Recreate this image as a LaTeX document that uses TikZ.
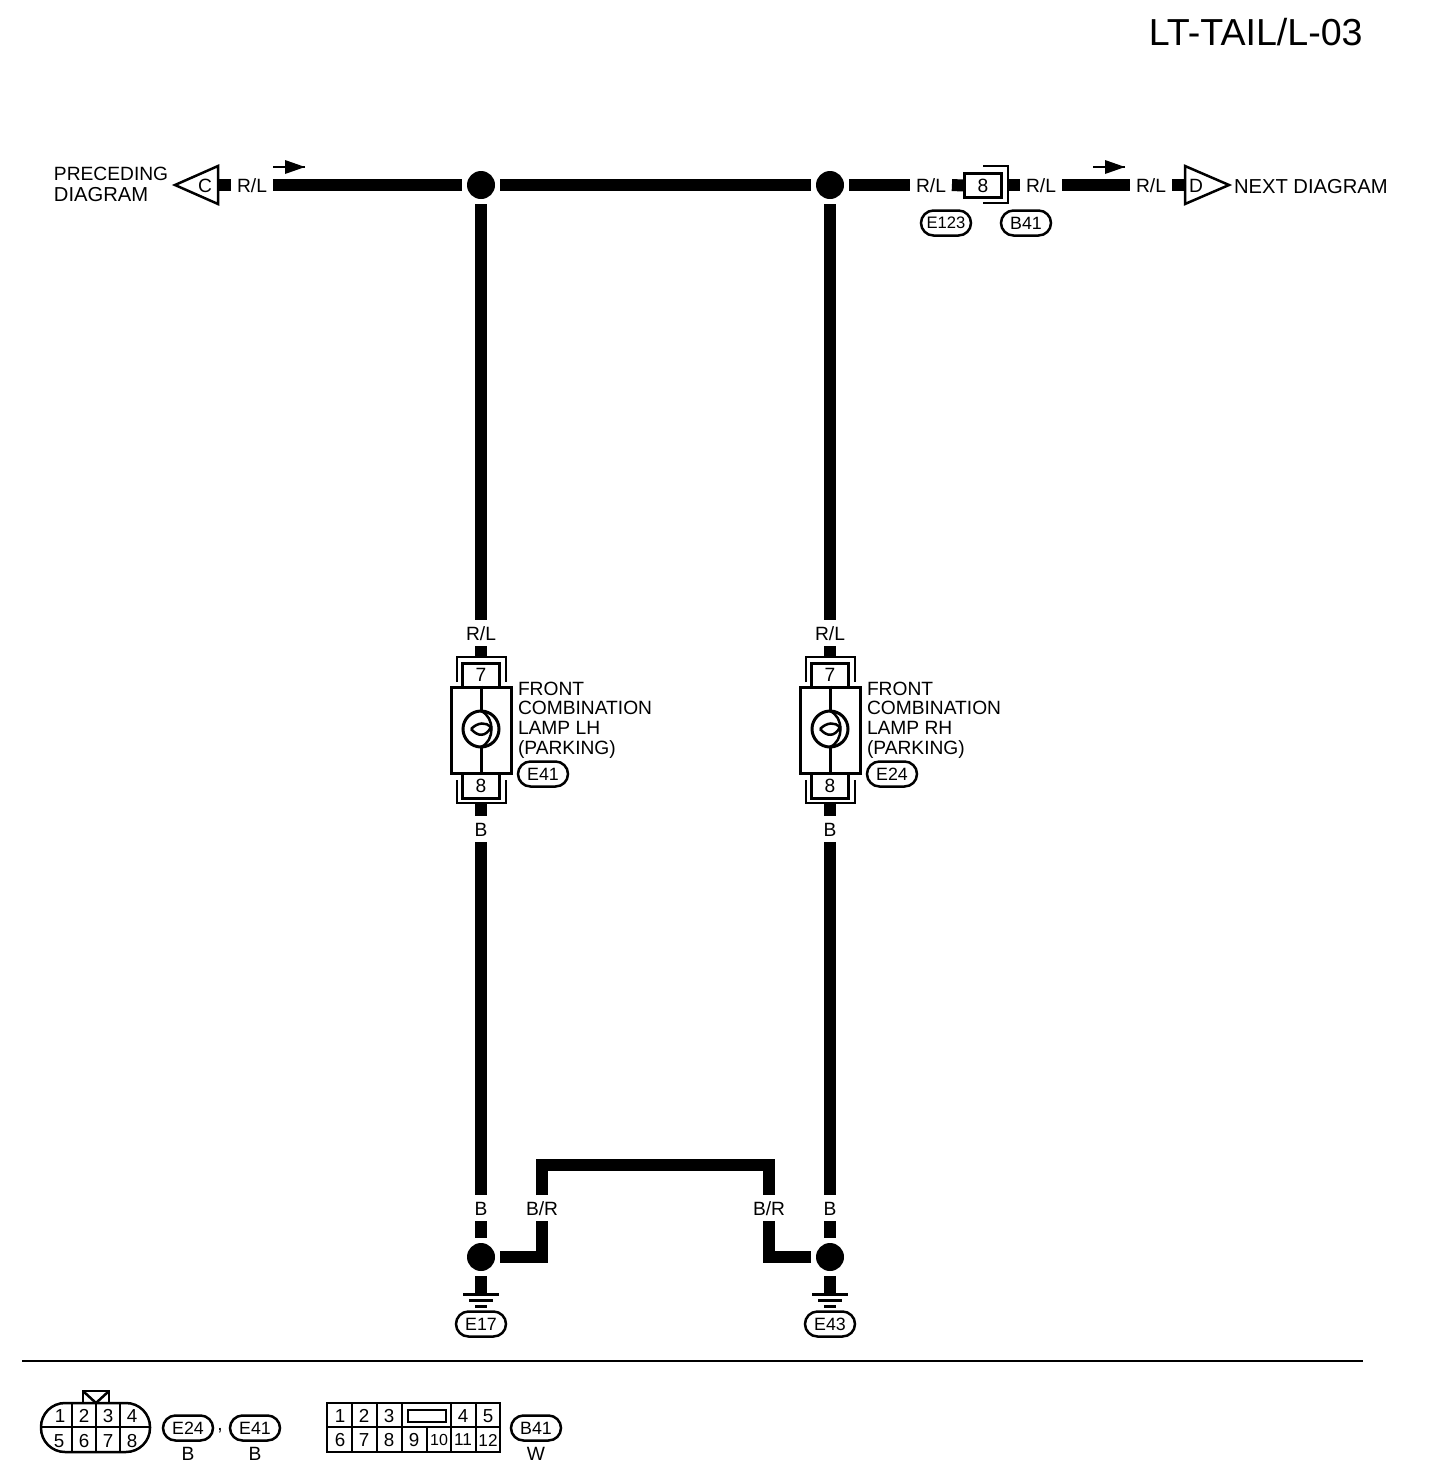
\documentclass[tikz,border=0pt]{standalone}
\usepackage{fontspec}
\setmainfont{Liberation Sans}
\usetikzlibrary{shapes.misc}
\tikzset{
  x=0.5pt,y=-0.5pt,
  wire/.style={line width=6pt,line cap=butt,line join=miter},
  thin line/.style={line width=1.25pt},
  lab/.style={font=\fontsize{9.6pt}{10pt}\selectfont,inner xsep=3pt,inner ysep=3pt,text height=7pt,text depth=0pt,outer sep=0pt},
  txt/.style={font=\fontsize{9.6pt}{10pt}\selectfont,inner sep=0pt,outer sep=0pt},
  junction/.style={circle,fill=black,minimum size=14pt,inner sep=0pt,outer sep=2.5pt},
  pill/.style={rounded rectangle,draw,line width=1.25pt,minimum width=25pt,minimum height=12.5pt,inner sep=0pt,font=\fontsize{8.9pt}{10pt}\selectfont},
  pinbox/.style={draw,line width=1.5pt,minimum width=18.5pt,minimum height=12pt,inner sep=0pt,font=\fontsize{9.6pt}{10pt}\selectfont},
  pin/.style={font=\fontsize{9.4pt}{10pt}\selectfont,inner sep=0pt},
  flowarrow/.style={line width=1pt},
}
\newcommand{\lampunit}[4]{%
  % #1 name, #2 x, #3 label, #4 pill text
  \node[lab] (#1top) at (#2,633) {R/L};
  \coordinate (#1stubT) at (#2,657);
  \draw[line width=1.4pt] (#2-24,682) |- (#2+25,657) -- (#2+25,682);
  \node[pinbox,minimum height=12pt] (#1p7) at (#2,675) {7};
  \node[draw,line width=1.5pt,minimum width=30pt,minimum height=43pt,inner sep=0pt] (#1body) at (#2,730) {};
  \node[pinbox,minimum height=12.5pt] (#1p8) at (#2,786) {8};
  \draw[line width=1.4pt] (#2-24,780) |- (#2+25,803) -- (#2+25,780);
  \coordinate (#1stubB) at (#2,803);
  \node[lab] (#1bot) at (#2,829) {B};
  \draw[wire] (#1top.south) -- (#1stubT);
  \draw[wire] (#1stubB) -- (#1bot.north);
  \node[circle,draw,line width=1.5pt,minimum size=18pt,inner sep=0pt] (#1bulb) at (#2,729) {};
  \draw[line width=1.5pt] (#1body.north) -- (#2,711);
  \draw[line width=1.5pt] (#2,747) -- (#1body.south);
  \draw[line width=1.25pt] (#2,711) .. controls (#2+14,717) and (#2+14,741) .. (#2,747);
  \draw[line width=1.25pt] (#2-10,729) .. controls (#2-3,722) and (#2+5,722) .. (#2+10,727)
     .. controls (#2+5,737) and (#2-3,737) .. (#2-10,729);
  \node[txt,anchor=base west] (#1l1) at (#2+37,695) {FRONT};
  \node[txt,anchor=base west] (#1l2) at (#2+37,714) {COMBINATION};
  \node[txt,anchor=base west] (#1l3) at (#2+37,734) {#3};
  \node[txt,anchor=base west] (#1l4) at (#2+37,754) {(PARKING)};
  \node[pill] (#1pill) at (#2+62,774) {#4};
}
\newcommand{\groundunit}[3]{%
  % #1 name, #2 x, #3 pill text
  \node[lab] (#1b) at (#2,1208) {B};
  \node[junction] (#1j) at (#2,1257) {};
  \coordinate (#1g) at (#2,1294);
  \draw[wire] (#1b.south) -- (#1j.north);
  \draw[wire] (#1j.south) -- (#1g);
  \draw[line width=1.5pt] (#2-18,1294) -- (#2+18,1294);
  \draw[line width=1.5pt] (#2-12,1300) -- (#2+12,1300);
  \draw[line width=1.5pt] (#2-6,1306) -- (#2+6,1306);
  \node[pill] (#1pill) at (#2,1324) {#3};
}
\begin{document}
\begin{tikzpicture}
\useasboundingbox (0,0) rectangle (1440,1484);
% title
\node[inner sep=0pt,anchor=base east,font=\fontsize{18.8pt}{20pt}\selectfont] (title) at (1363,45) {LT-TAIL/L-03};
% left off-page
\node[txt,anchor=base west] (prec1) at (54,180) {PRECEDING};
\node[txt,anchor=base west,font=\fontsize{10.1pt}{11pt}\selectfont] (prec2) at (54,201) {DIAGRAM};
\coordinate (triL) at (218,185);
\draw[line width=1.25pt,line join=miter] (218,166) -- (175,185) -- (218,204) -- cycle;
\node[txt] (cC) at (205,186) {C};
\node[lab] (rl1) at (252,185) {R/L};
\node[junction] (j1) at (481,185) {};
\node[junction] (j2) at (830,185) {};
\node[lab] (rl2) at (931,185) {R/L};
\node[draw,line width=1.5pt,minimum width=18.5pt,minimum height=12pt,inner sep=0pt,font=\fontsize{9.6pt}{10pt}\selectfont] (c8) at (983,185.5) {8};
\draw[line width=1.25pt] (983,166) -| (1008,203) -- (983,203);
\coordinate (c8r) at (1008,185);
\node[lab] (rl3) at (1041,185) {R/L};
\node[lab] (rl4) at (1151,185) {R/L};
\coordinate (triR) at (1185,185);
\draw[line width=1.25pt,line join=miter] (1185,166) -- (1229,185) -- (1185,204) -- cycle;
\node[txt] (cD) at (1196,186) {D};
\node[txt,anchor=base west,font=\fontsize{10.1pt}{11pt}\selectfont] (next) at (1234,193) {NEXT DIAGRAM};
% top wires
\draw[wire] (triL) -- (rl1.west);
\draw[wire] (rl1.east) -- (j1.west);
\draw[wire] (j1.east) -- (j2.west);
\draw[wire] (j2.east) -- (rl2.west);
\draw[wire] (rl2.east) -- (c8.west);
\draw[wire] (c8r) -- (rl3.west);
\draw[wire] (rl3.east) -- (rl4.west);
\draw[wire] (rl4.east) -- (triR);
% flow arrows
\coordinate (fa1) at (273,167); \coordinate (fa2) at (305,167);
\coordinate (fb1) at (1093,167); \coordinate (fb2) at (1125,167);
\draw[flowarrow] (fa1) -- (fa2);
\fill (285,160) -- (305,167) -- (285,174) -- cycle;
\draw[flowarrow] (fb1) -- (fb2);
\fill (1105,160) -- (1125,167) -- (1105,174) -- cycle;
% pills top
\node[pill,font=\fontsize{8.3pt}{10pt}\selectfont] (e123) at (946,223) {E123};
\node[pill] (b41a) at (1026,223) {B41};
% lamps
\lampunit{L}{481}{LAMP LH}{E41}
\lampunit{R}{830}{LAMP RH}{E24}
\draw[wire] (j1.south) -- (Ltop.north);
\draw[wire] (j2.south) -- (Rtop.north);
% grounds
\groundunit{GL}{481}{E17}
\groundunit{GR}{830}{E43}
\draw[wire] (Lbot.south) -- (GLb.north);
\draw[wire] (Rbot.south) -- (GRb.north);
% B/R jumper
\node[lab] (br1) at (542,1208) {B/R};
\node[lab] (br2) at (769,1208) {B/R};
\draw[wire] (GLj.east) -| (br1.south);
\draw[wire] (GRj.west) -| (br2.south);
\coordinate (brt) at (655,1165);
\draw[wire] (br1.north) |- (brt) -| (br2.north);
% separator
\coordinate (s1) at (22,1361); \coordinate (s2) at (1363,1361);
\draw[line width=1pt] (s1) -- (s2);
% connector 1
\draw[line width=1.25pt,rounded corners=12pt] (41,1403) rectangle (150,1452);
\draw[line width=1.25pt] (41,1427) -- (150,1427);
\foreach \xx in {72,96,120} \draw[line width=1.25pt] (\xx,1403) -- (\xx,1452);
\draw[line width=1.25pt,line join=miter] (83,1403) -- (83,1391) -- (109,1391) -- (109,1403);
\draw[line width=1.25pt] (83,1391) -- (96,1403) -- (109,1391);
\foreach \xx/\t/\yy in {60/1/1416,84/2/1416,108/3/1416,132/4/1416,59/5/1441,84/6/1441,108/7/1441,132/8/1441}
  \node[pin] (a\t) at (\xx,\yy) {\t};
\node[pill] (pe24) at (188,1428) {E24};
\node[txt] (comma) at (220,1431) {,};
\node[pill] (pe41) at (255,1428) {E41};
\node[txt] (be24) at (188,1454) {B};
\node[txt] (be41) at (255,1454) {B};
% connector 2
\draw[line width=1.4pt] (327,1403) rectangle (500,1452);
\draw[line width=1.25pt] (327,1427) -- (500,1427);
\foreach \xx in {352,377,402,451,476} \draw[line width=1.4pt] (\xx,1403) -- (\xx,1452);
\draw[line width=0.75pt] (427,1427) -- (427,1452);
\draw[line width=1.4pt] (408,1410) rectangle (446,1422);
\foreach \xx/\t in {340/1,364/2,389/3,463/4,488/5}
  \node[pin] (b\t) at (\xx,1416) {\t};
\foreach \xx/\t in {340/6,364/7,389/8,414/9}
  \node[pin] (b\t) at (\xx,1440) {\t};
\foreach \xx/\t in {463/11,488/12}
  \node[pin,font=\fontsize{8.6pt}{9pt}\selectfont] (b\t) at (\xx,1440) {\t};
\node[pin,font=\fontsize{8pt}{9pt}\selectfont] (b10) at (439,1440) {10};
\node[pill] (pb41) at (536,1428) {B41};
\node[txt] (wb41) at (536,1454) {W};
\end{tikzpicture}
\end{document}
